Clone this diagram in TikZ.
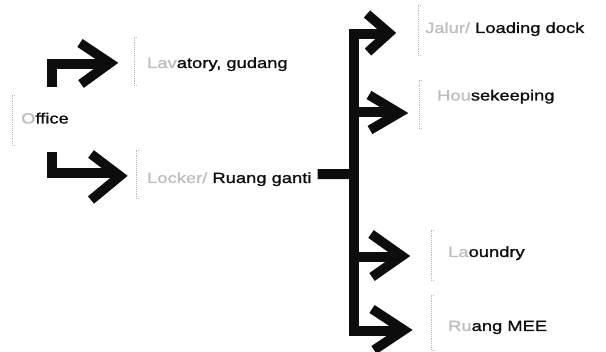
\documentclass[tikz,border=0pt]{standalone}
\usepackage{fontspec}
\setmainfont{Liberation Sans}[FakeStretch=1.24,FakeBold=1.2]
\usetikzlibrary{calc}
\definecolor{fade}{gray}{0.74}
\definecolor{ink}{gray}{0.05}
\begin{document}
\begin{tikzpicture}[x=1pt,y=-1pt,
  bar/.style={draw=ink, line width=10pt, line cap=butt, line join=miter},
  chev/.style={draw=ink, line width=9.5pt, line cap=butt, line join=miter, miter limit=10},
  lbl/.style={anchor=base west, inner sep=0pt, text=ink, font=\fontsize{14.8}{16}\selectfont},
  brk/.style={draw=fade, densely dotted, line width=0.9pt}
]
\useasboundingbox (0,0) rectangle (606,352);

% labels
\node[lbl] (office) at (21,123.5) {{\color{fade}O}ffice};
\node[lbl] (lav)    at (147,68)  {{\color{fade}Lav}atory, gudang};
\node[lbl] (lock)   at (147,183) {{\color{fade}Locker/} Ruang ganti};
\node[lbl] (load)   at (425,33)  {{\color{fade}Jalur/} Loading dock};
\node[lbl] (house)  at (437,100.5) {{\color{fade}Hou}sekeeping};
\node[lbl] (laun)   at (448,257) {{\color{fade}La}oundry};
\node[lbl] (mee)    at (448,331) {{\color{fade}Ru}ang MEE};

% faded brackets
\draw[brk] (15,95) -- (12,95) -- (12,145) -- (15,145);
\draw[brk] (137,37) -- (134,37) -- (134,85) -- (137,85);
\draw[brk] (139,150) -- (136,150) -- (136,198) -- (139,198);
\draw[brk] (421,5) -- (418,5) -- (418,55) -- (421,55);
\draw[brk] (422,80) -- (419,80) -- (419,128) -- (422,128);
\draw[brk] (434,230) -- (431,230) -- (431,280) -- (434,280);
\draw[brk] (434,295) -- (431,295) -- (431,350) -- (434,350);

% coordinates
\coordinate (sA) at (52,87);
\coordinate (tA) at (110,63);
\coordinate (sB) at (52,152);
\coordinate (tB) at (120,176);
\coordinate (trunk) at (354,174);
\coordinate (t1) at (389,33);
\coordinate (t2) at (399,113);
\coordinate (t3) at (402,256);
\coordinate (t4) at (404,330);

% left arrows
\draw[bar] (sA) |- ($(tA)+(-4,1)$);
\draw[chev] (80,43) -- (tA) -- (81,84);
\draw[bar] (sB) |- ($(tB)+(-4,-3)$);
\draw[chev] (91,154) -- (tB) -- (91,200);

% right tree
\draw[bar] (lock.east) ++(6,-5) -- (trunk);
\draw[bar] ($(t1)+(-4,1)$) -| (354,331) -- ($(t4)+(-4,1)$);
\draw[bar] (354,112) -- ($(t2)+(-4,-1)$);
\draw[bar] (354,257) -- ($(t3)+(-4,1)$);
\draw[chev] (367,14) -- (t1) -- (368,52);
\draw[chev] (369,95) -- (t2) -- (370,130);
\draw[chev] (371,234) -- (t3) -- (372,277);
\draw[chev] (372,309) -- (t4) -- (374,350);
\end{tikzpicture}
\end{document}
